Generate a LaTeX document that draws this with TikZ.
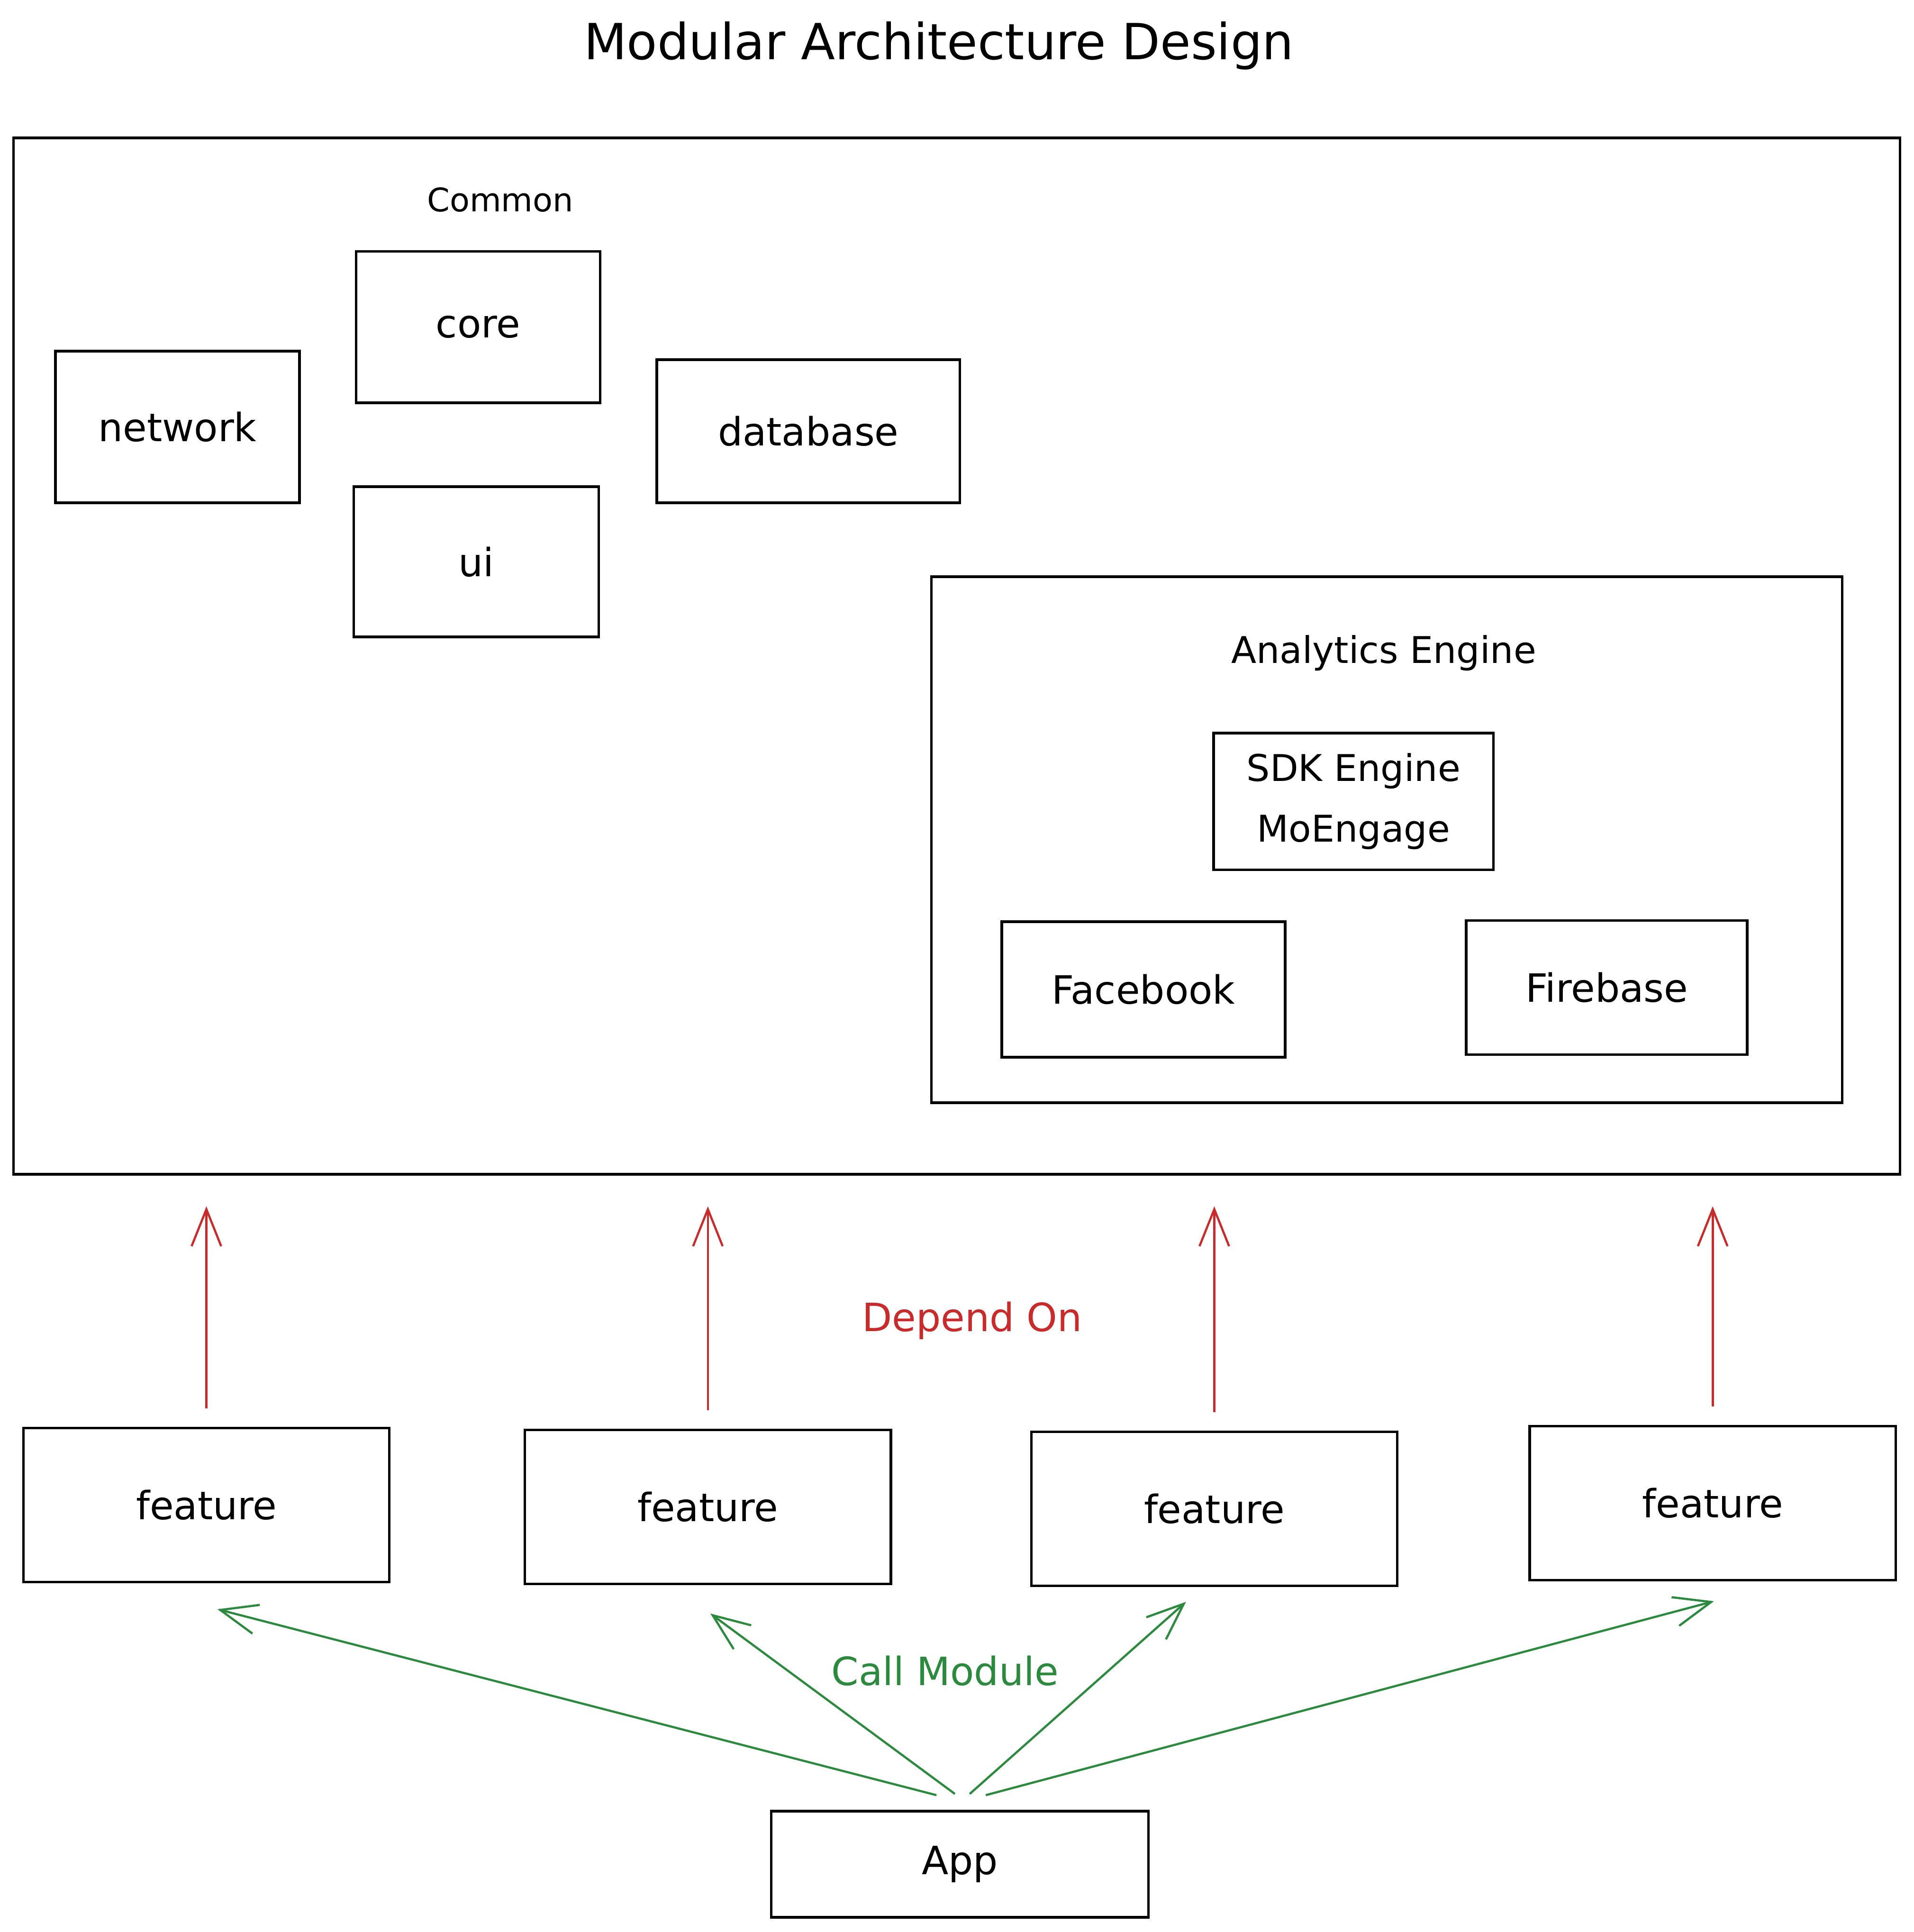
\documentclass[tikz,border=0pt]{standalone}
\usepackage{fontspec}
\setmainfont{DejaVu Sans}
\usetikzlibrary{calc}
\usetikzlibrary{arrows.meta}
\definecolor{color_depend}{HTML}{C92A2A}
\definecolor{color_call}{HTML}{2B8A3E}
\def\reservedspace{\useasboundingbox (0,0) rectangle (15.53,15.68);}

\begin{document}
\begin{tikzpicture}[
        module/.style={draw, line width=0.6pt, inner sep=0pt, font=\fontsize{9}{11}\selectfont, align=center},
        groupbox/.style={draw, line width=0.6pt, inner sep=0pt},
        featurebox/.style={module, minimum width=2.97cm, minimum height=1.25cm},
        dependarrow/.style={color_depend, line width=0.5pt, -{Straight Barb[length=3mm,width=2.4mm]}},
        callarrow/.style={color_call, line width=0.5pt, -{Straight Barb[length=3mm,width=2.4mm]}}
    ]
            \reservedspace
            \fill[white] (0,0) rectangle (15.53,15.68);
            \node (title) at (7.62,15.31) {\fontsize{11.5}{14}\selectfont Modular Architecture Design};
            % common group
            \node[groupbox, minimum width=15.31cm, minimum height=8.41cm] (common) at (7.765,10.355) {};
            \node[font=\fontsize{7.5}{9}\selectfont] (commonlabel) at (4.06,14.06) {Common};
            \node[module, minimum width=1.98cm, minimum height=1.23cm] (core) at (3.88,13.025) {core};
            \node[module, minimum width=1.98cm, minimum height=1.23cm] (network) at (1.44,12.215) {network};
            \node[module, minimum width=2.46cm, minimum height=1.16cm] (database) at (6.56,12.18) {database};
            \node[module, minimum width=1.99cm, minimum height=1.22cm] (ui) at (3.865,11.12) {ui};
            % analytics engine
            \node[groupbox, minimum width=7.39cm, minimum height=4.27cm] (analytics) at (11.255,8.865) {};
            \node[font=\fontsize{8.5}{10}\selectfont] (analyticslabel) at (11.23,10.38) {Analytics Engine};
            \node[module, minimum width=2.27cm, minimum height=1.11cm, font=\fontsize{8.5}{14}\selectfont] (sdk) at (10.985,9.175) {SDK Engine\\MoEngage};
            \node[module, minimum width=2.30cm, minimum height=1.10cm] (facebook) at (9.28,7.65) {Facebook};
            \node[module, minimum width=2.28cm, minimum height=1.09cm] (firebase) at (13.04,7.665) {Firebase};
            % features
            \node[featurebox] (feat1) at (1.675,3.465) {feature};
            \node[featurebox] (feat2) at (5.745,3.45) {feature};
            \node[featurebox] (feat3) at (9.855,3.435) {feature};
            \node[featurebox] (feat4) at (13.9,3.48) {feature};
            \node[module, minimum width=3.06cm, minimum height=0.86cm] (app) at (7.79,0.55) {App};
            % depend on
            \foreach \f in {feat1,feat2,feat3,feat4}
                \draw[dependarrow, shorten <=0.15cm, shorten >=0.25cm] (\f.north) -- (\f.north |- common.south);
            \node[color_depend, font=\fontsize{9}{11}\selectfont] (dependlabel) at (7.89,4.96) {Depend On};
            % call module
            \draw[callarrow] ($(app.north)+(-0.19,0.12)$) -- ($(feat1.south)+(0.09,-0.21)$);
            \draw[callarrow] ($(app.north)+(-0.04,0.13)$) -- ($(feat2.south)+(0.02,-0.23)$);
            \draw[callarrow] ($(app.north)+(0.08,0.13)$) -- ($(feat3.south)+(-0.23,-0.12)$);
            \draw[callarrow] ($(app.north)+(0.21,0.12)$) -- ($(feat4.south)+(0.01,-0.16)$);
            \node[color_call, font=\fontsize{9}{11}\selectfont] (calllabel) at (7.67,2.12) {Call Module};
\end{tikzpicture}
\end{document}
